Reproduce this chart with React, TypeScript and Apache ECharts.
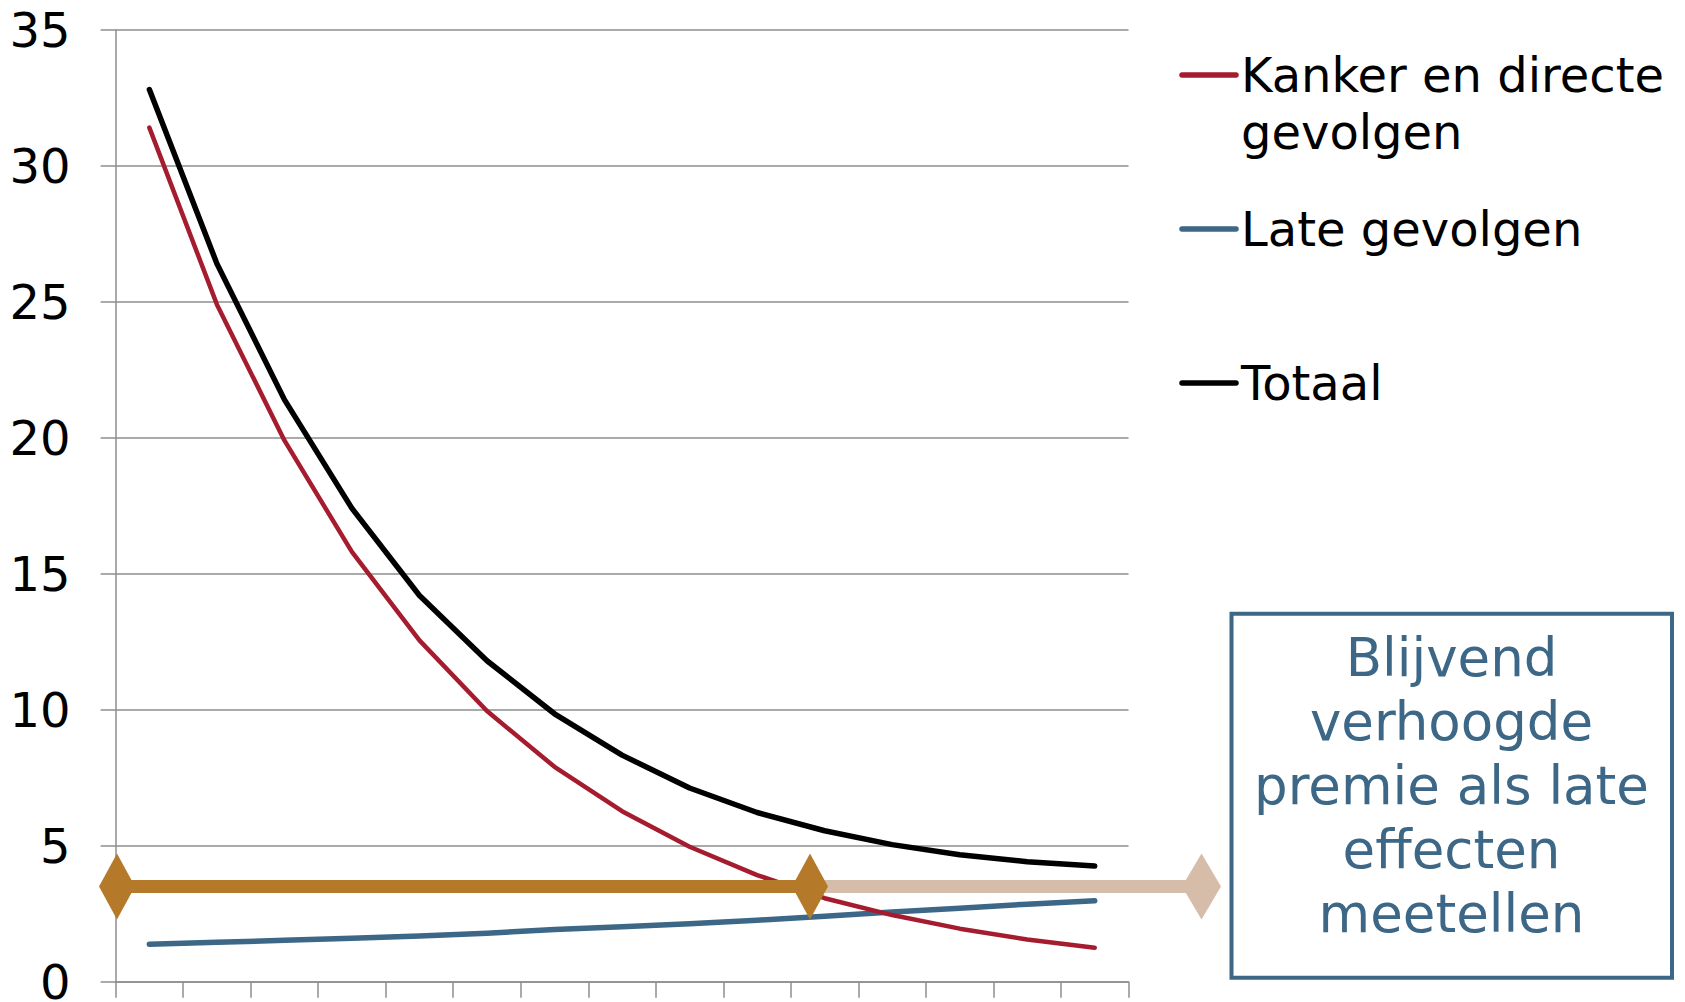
import React, { useEffect, useRef } from "react";
import * as echarts from "echarts";

// Years after diagnosis (axis labels are not shown)
const categories = ["1", "2", "3", "4", "5", "6", "7", "8", "9", "10", "11", "12", "13", "14", "15"];

// Premium components per year
const kankerDirect = [31.4, 24.9, 19.9, 15.8, 12.55, 9.95, 7.9, 6.27, 4.96, 3.92, 3.07, 2.45, 1.95, 1.55, 1.25];
const lateGevolgen = [1.38, 1.45, 1.52, 1.6, 1.68, 1.78, 1.92, 2.02, 2.13, 2.26, 2.41, 2.56, 2.7, 2.85, 2.98];
const totaal = [32.8, 26.4, 21.4, 17.4, 14.2, 11.8, 9.85, 8.33, 7.12, 6.22, 5.55, 5.04, 4.67, 4.41, 4.25];

// Level of the permanently raised premium arrow
const ARROW_LEVEL = 3.5;

const legendItems = ["Kanker en directe\ngevolgen", "Late gevolgen", "Totaal"];
const boxLines = ["Blijvend", "verhoogde", "premie als late", "effecten", "meetellen"];

const RED = "#A51C2F";
const BLUE = "#3C6786";
const BLACK = "#000000";
const GOLD = "#B57A29";
const TAN = "#D6BDAA";
const GRID = "#8E8E8E";
const FONT = "DejaVu Sans";

export default function App() {
  const ref = useRef<HTMLDivElement>(null);

  useEffect(() => {
    document.body.style.margin = "0";
    const chart = echarts.init(ref.current!, null, { renderer: "svg" });
    const lineSeries = (name: string, data: number[], color: string, width: number) => ({
      name,
      type: "line",
      data,
      symbol: "none",
      smooth: false,
      lineStyle: { color, width, cap: "round", join: "round" },
      itemStyle: { color },
    });

    chart.setOption({
      animation: false,
      grid: {
        left: 115.6,
        right: 556.5,
        top: 29.7,
        bottom: 20.3,
        containLabel: false,
        outerBoundsMode: "none",
      },
      xAxis: {
        type: "category",
        data: categories,
        boundaryGap: true,
        axisLine: { show: true, lineStyle: { color: GRID, width: 1.5 } },
        axisTick: { show: true, length: 16, inside: false, lineStyle: { color: GRID, width: 1.5 } },
        axisLabel: { show: false },
        splitLine: { show: false },
      },
      yAxis: {
        type: "value",
        min: 0,
        max: 35,
        interval: 5,
        axisLine: { show: true, lineStyle: { color: GRID, width: 1.5 } },
        axisTick: { show: true, length: 15, inside: false, lineStyle: { color: GRID, width: 1.5 } },
        axisLabel: {
          show: true,
          fontSize: 48,
          lineHeight: 38,
          fontFamily: FONT,
          color: "#000",
          margin: 45,
        },
        splitLine: { show: true, lineStyle: { color: GRID, width: 1.5 } },
      },
      series: [
        lineSeries(legendItems[1], lateGevolgen, BLUE, 5.5),
        lineSeries(legendItems[0], kankerDirect, RED, 4.5),
        lineSeries(legendItems[2], totaal, BLACK, 5.5),
      ],
    });

    const y = chart.convertToPixel({ yAxisIndex: 0 }, ARROW_LEVEL) as number;
    const diamond = (cx: number, hw: number, hh: number, color: string) => ({
      type: "polygon",
      z: 100,
      shape: { points: [[cx - hw, y], [cx, y - hh], [cx + hw, y], [cx, y + hh]] },
      style: { fill: color },
    });
    const bar = (x1: number, x2: number, color: string) => ({
      type: "rect",
      z: 99,
      shape: { x: x1, y: y - 6.5, width: x2 - x1, height: 13 },
      style: { fill: color },
    });

    const legendColors = [RED, BLUE, BLACK];
    const legendY = [75, 229, 383];
    const legendGraphics: any[] = [];
    legendItems.forEach((label, i) => {
      legendGraphics.push({
        type: "line",
        shape: { x1: 1182, y1: legendY[i], x2: 1236, y2: legendY[i] },
        style: { stroke: legendColors[i], lineWidth: 5.5, lineCap: "round" },
      });
      label.split("\n").forEach((part, j) => {
        legendGraphics.push({
          type: "text",
          x: 1241,
          y: legendY[i] + j * 57,
          style: {
            text: part,
            fontSize: 48,
            fontFamily: FONT,
            fill: "#000",
            align: "left",
            verticalAlign: "middle",
          },
        });
      });
    });

    const boxGraphics: any[] = [
      {
        type: "rect",
        shape: { x: 1231.5, y: 613.7, width: 440.5, height: 364 },
        style: { fill: "#fff", stroke: BLUE, lineWidth: 4 },
      },
      ...boxLines.map((line, i) => ({
        type: "text",
        x: 1451.5,
        y: 657 + i * 64,
        style: {
          text: line,
          fontSize: 53,
          fontFamily: FONT,
          fill: BLUE,
          align: "center",
          verticalAlign: "middle",
        },
      })),
    ];

    chart.setOption({
      graphic: [
        bar(810, 1201.5, TAN),
        diamond(1201.5, 19.5, 33, TAN),
        bar(117, 810, GOLD),
        diamond(117, 18, 33, GOLD),
        diamond(810, 18, 33, GOLD),
        ...legendGraphics,
        ...boxGraphics,
      ],
    });

    return () => chart.dispose();
  }, []);

  return <div ref={ref} style={{ width: 1685, height: 1002 }} />;
}
